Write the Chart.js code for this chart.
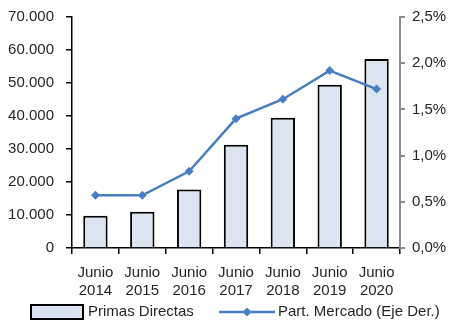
<!DOCTYPE html>
<html>
<head>
<meta charset="utf-8">
<script src="https://cdn.jsdelivr.net/npm/chart.js@4.4.0/dist/chart.umd.min.js"></script>
<style>
  html, body { margin: 0; padding: 0; background: #fff; }
  #wrap { width: 451px; height: 326px; }
</style>
</head>
<body>
<div id="wrap"><canvas id="primasChart" width="451" height="326"></canvas></div>
<script>
// Primas directas (bars, left axis) and market share (line, right axis)
const years = ['2014', '2015', '2016', '2017', '2018', '2019', '2020'];
const primasDirectas = [9800, 11000, 17700, 31300, 39500, 49500, 57300];
const partMercado = [0.57, 0.57, 0.83, 1.40, 1.61, 1.92, 1.72];
const leftTicks = [0, 10000, 20000, 30000, 40000, 50000, 60000, 70000];
const rightTicks = [0, 0.5, 1.0, 1.5, 2.0, 2.5];

const FONT = '"Liberation Sans", Arial, sans-serif';
const FONT_SIZE = 15;
const TEXT = '#262626';
const BAR_FILL = '#dbe5f1';
const LINE_COLOR = '#4a7ec1';

const fmtMiles = v => v.toLocaleString('de-DE');
const fmtPct = v => v.toFixed(1).replace('.', ',') + '%';

// custom legend: box for bars, line with diamond for the share series
const legendPlugin = {
    id: 'bottomLegend',
    afterDraw(chart) {
        const ctx = chart.ctx;
        const y = 312;
        ctx.save();
        ctx.font = FONT_SIZE + 'px ' + FONT;
        ctx.textBaseline = 'middle';

        ctx.fillStyle = BAR_FILL;
        ctx.fillRect(31, 305, 52, 14);
        ctx.strokeStyle = '#000';
        ctx.lineWidth = 2;
        ctx.strokeRect(31, 305, 52, 14);
        ctx.fillStyle = TEXT;
        ctx.fillText('Primas Directas', 88, y);

        ctx.strokeStyle = LINE_COLOR;
        ctx.lineWidth = 2.5;
        ctx.beginPath();
        ctx.moveTo(219, y);
        ctx.lineTo(275, y);
        ctx.stroke();
        ctx.fillStyle = LINE_COLOR;
        ctx.beginPath();
        ctx.moveTo(247, y - 4.5);
        ctx.lineTo(251.5, y);
        ctx.lineTo(247, y + 4.5);
        ctx.lineTo(242.5, y);
        ctx.closePath();
        ctx.fill();
        ctx.fillStyle = TEXT;
        ctx.fillText('Part. Mercado (Eje Der.)', 278, y);
        ctx.restore();
    }
};

// y axes: fixed width, no extra room reserved for the end labels
const fitY = width => s => {
    s.width = width;
    s.paddingTop = 0;
    s.paddingBottom = 0;
};

const ctx = document.getElementById('primasChart').getContext('2d');
new Chart(ctx, {
    type: 'bar',
    data: {
        labels: years.map(y => ['Junio', y]),
        datasets: [
            {
                type: 'line',
                label: 'Part. Mercado (Eje Der.)',
                data: partMercado,
                yAxisID: 'yRight',
                borderColor: LINE_COLOR,
                backgroundColor: LINE_COLOR,
                borderWidth: 2.5,
                tension: 0,
                pointStyle: 'rectRot',
                pointRadius: 4.5,
                pointBorderWidth: 0,
                order: 0
            },
            {
                label: 'Primas Directas',
                data: primasDirectas,
                yAxisID: 'yLeft',
                backgroundColor: BAR_FILL,
                borderColor: '#000',
                borderWidth: 2,
                barPercentage: 0.52,
                categoryPercentage: 1,
                order: 1
            }
        ]
    },
    options: {
        responsive: false,
        animation: false,
        layout: { padding: { top: 17, bottom: 28 } },
        plugins: { legend: { display: false }, tooltip: { enabled: false } },
        scales: {
            x: {
                offset: true,
                grid: { display: true, drawOnChartArea: false, offset: true, color: '#000', tickLength: 6, lineWidth: 1.5 },
                border: { display: true, color: '#000', width: 1.5 },
                ticks: { color: TEXT, font: { family: FONT, size: FONT_SIZE, lineHeight: 1.25 }, padding: 9, maxRotation: 0, autoSkip: false },
                afterFit: s => { s.height = 50; }
            },
            yLeft: {
                position: 'left',
                min: 0,
                max: 70000,
                afterBuildTicks: s => { s.ticks = leftTicks.map(v => ({ value: v })); },
                grid: { display: true, drawOnChartArea: false, color: '#000', tickLength: 6, lineWidth: 1.5 },
                border: { display: true, color: '#000', width: 1.5 },
                ticks: { color: TEXT, font: { family: FONT, size: FONT_SIZE }, padding: 12, callback: v => fmtMiles(v) },
                afterFit: fitY(72)
            },
            yRight: {
                position: 'right',
                min: 0,
                max: 2.5,
                afterBuildTicks: s => { s.ticks = rightTicks.map(v => ({ value: v })); },
                grid: { display: true, drawOnChartArea: false, color: '#8c8c8c', tickLength: 5, lineWidth: 2 },
                border: { display: true, color: '#8c8c8c', width: 2 },
                ticks: { color: TEXT, font: { family: FONT, size: FONT_SIZE }, padding: 7, callback: v => fmtPct(v) },
                afterFit: fitY(51)
            }
        }
    },
    plugins: [legendPlugin]
});
</script>
</body>
</html>
